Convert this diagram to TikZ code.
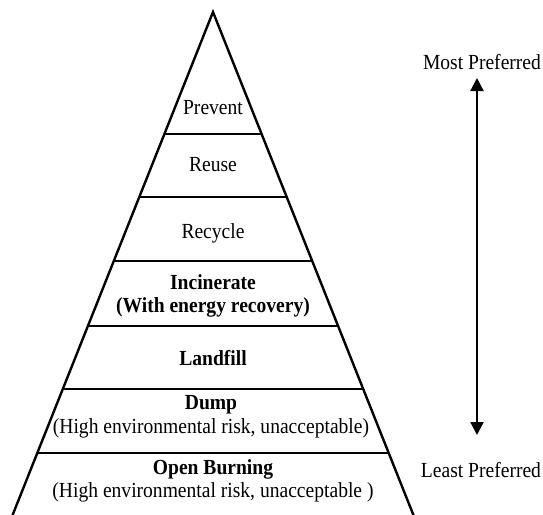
\documentclass[tikz,border=0pt]{standalone}
\usepackage{fontspec}
\setmainfont{Liberation Serif}[FakeStretch=0.91]
\usetikzlibrary{calc,arrows.meta}
\begin{document}
\begin{tikzpicture}[x=1pt,y=-1pt,
  edge/.style={line width=2.4pt,line cap=round,line join=miter},
  lbl/.style={font=\fontsize{21.5}{23.5}\selectfont,align=center,inner sep=0pt},
  blbl/.style={lbl,font=\fontsize{21.5}{23.5}\selectfont\bfseries},
  pref/.style={lbl}]
\useasboundingbox (0,0) rectangle (543,514);
\coordinate (A) at (213,12);
\coordinate (BL) at (13,514);
\coordinate (BR) at (413,514);
\coordinate (BLx) at ($(A)!1.02!(BL)$);
\coordinate (BRx) at ($(A)!1.02!(BR)$);
\draw[edge] (BLx) -- (A) -- (BRx);
\foreach \y [count=\i] in {134,197,261,326,389,453}{
  \coordinate (l\i) at ($(A)!{(\y-12)/502}!(BL)$);
  \coordinate (r\i) at ($(A)!{(\y-12)/502}!(BR)$);
  \draw[edge,line cap=butt] (l\i) -- (r\i);
}
\node[lbl] (prevent) at (213,108) {Prevent};
\node[lbl] (reuse) at (213,165) {Reuse};
\node[lbl] (recycle) at (213,233) {Recycle};
\node[blbl] (incinerate) at (213,296) {Incinerate\\(With energy recovery)};
\node[blbl] (landfill) at (213,358) {Landfill};
\node[lbl] (dump) at (211,417) {\textbf{Dump}\\(High environmental risk, unacceptable)};
\node[lbl] (burning) at (213,481) {\textbf{Open Burning}\\(High environmental risk, unacceptable )};
\node[pref] (most) at (482,62) {Most Preferred};
\node[pref] (least) at (481,470) {Least Preferred};
\coordinate (atop) at (477,78);
\coordinate (abot) at (477,435);
\draw[line width=2.2pt,{Triangle[width=13pt,length=13pt]}-{Triangle[width=13pt,length=13pt]}] (atop) -- (abot);
\end{tikzpicture}
\end{document}
